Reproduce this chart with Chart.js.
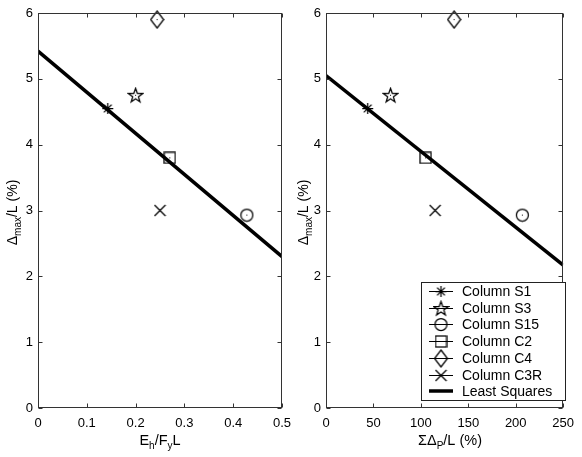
<!DOCTYPE html>
<html><head><meta charset="utf-8">
<script src="https://cdn.jsdelivr.net/npm/chart.js@4/dist/chart.umd.min.js"></script>
<style>
html,body{margin:0;padding:0;background:#fff;width:582px;height:457px;overflow:hidden;}
#w1{position:absolute;left:0;top:0;width:320px;height:457px;}
#w2{position:absolute;left:291px;top:0;width:291px;height:457px;}
</style></head><body>
<div id="w1"><canvas id="c1" width="320" height="457"></canvas></div>
<div id="w2"><canvas id="c2" width="291" height="457"></canvas></div>
<script>
// ---- data ----
const seriesNames = ['Column S1','Column S3','Column S15','Column C2','Column C4','Column C3R'];
const energyX  = [0.143, 0.200, 0.428, 0.270, 0.244, 0.250];   // Eh/FyL
const plasticX = [44, 68, 207, 105, 135, 115];                  // ΣΔp/L (%)
const driftY   = [4.55, 4.75, 2.93, 3.80, 5.90, 3.00];          // Δmax/L (%)
const fitName = 'Least Squares';
const fitEnergyX = [0, 0.5];   const fitEnergyY = [5.42, 2.30];
const fitPlasticX = [0, 250];  const fitPlasticY = [5.05, 2.17];
const yTickValues = [0, 1, 2, 3, 4, 5, 6];
const energyTicks = [0, 0.1, 0.2, 0.3, 0.4, 0.5];
const plasticTicks = [0, 50, 100, 150, 200, 250];

const F = '"Liberation Sans", Arial, Helvetica, sans-serif';
Chart.defaults.font.family = F;
Chart.defaults.color = '#000';

// ---- marker images (MATLAB style, hollow black) ----
function mk(w, h, draw) {
  const c = document.createElement('canvas'); c.width = w; c.height = h;
  const g = c.getContext('2d'); g.strokeStyle = '#000'; g.fillStyle = '#000'; g.lineWidth = 1.25;
  draw(g, w / 2, h / 2); return c;
}
function dot(g, cx, cy) { g.fillRect(Math.floor(cx), Math.floor(cy), 1, 1); }
const markers = [
  mk(13, 13, (g, cx, cy) => { const r = 5.5; g.beginPath();
    for (let k = 0; k < 4; k++) { const a = k * Math.PI / 4;
      g.moveTo(cx - r * Math.cos(a), cy - r * Math.sin(a)); g.lineTo(cx + r * Math.cos(a), cy + r * Math.sin(a)); }
    g.stroke(); }),
  mk(17, 17, (g, cx, cy) => { const R = 7.5, r = 3.0; g.beginPath();
    for (let k = 0; k < 10; k++) { const a = -Math.PI / 2 + k * Math.PI / 5; const rr = k % 2 ? r : R;
      const px = cx + rr * Math.cos(a), py = cy + 0.5 + rr * Math.sin(a); k ? g.lineTo(px, py) : g.moveTo(px, py); }
    g.closePath(); g.stroke(); dot(g, cx, cy); }),
  mk(15, 15, (g, cx, cy) => { g.beginPath(); g.arc(cx, cy, 6, 0, Math.PI * 2); g.stroke(); dot(g, cx, cy); }),
  mk(13, 13, (g, cx, cy) => { g.strokeRect(cx - 5.5, cy - 5.5, 11, 11); dot(g, cx, cy); }),
  mk(15, 19, (g, cx, cy) => { g.beginPath(); g.moveTo(cx, cy - 8.5); g.lineTo(cx + 6.5, cy); g.lineTo(cx, cy + 8.5); g.lineTo(cx - 6.5, cy); g.closePath(); g.stroke(); dot(g, cx, cy); }),
  mk(13, 13, (g, cx, cy) => { const r = 5.5; g.beginPath(); g.moveTo(cx - r, cy - r); g.lineTo(cx + r, cy + r); g.moveTo(cx + r, cy - r); g.lineTo(cx - r, cy + r); g.stroke(); })
];

function buildDatasets(xs, fx, fy) {
  const ds = seriesNames.map((n, i) => ({
    label: n, data: [{ x: xs[i], y: driftY[i] }], pointStyle: markers[i],
    pointRadius: 7, borderColor: '#000', backgroundColor: 'transparent', showLine: false, clip: false, order: 1
  }));
  ds.push({ label: fitName, data: fx.map((x, i) => ({ x, y: fy[i] })), showLine: true,
    borderColor: '#000', borderWidth: 3.5, pointRadius: 0, order: -1, isFit: true });
  return ds;
}

function richText(ctx, parts, x, y, size) {
  const main = size + 'px ' + F, sub = Math.round(size * 0.72) + 'px ' + F;
  let w = 0;
  parts.forEach(p => { ctx.font = p[1] ? sub : main; w += ctx.measureText(p[0]).width; });
  let cx = x - w / 2; ctx.textAlign = 'left'; ctx.textBaseline = 'alphabetic'; ctx.fillStyle = '#000';
  parts.forEach(p => { ctx.font = p[1] ? sub : main; ctx.fillText(p[0], cx, y + (p[1] ? 4 : 0)); cx += ctx.measureText(p[0]).width; });
}

const framePlugin = {
  id: 'frame',
  afterDraw(chart, args, o) {
    const { ctx, chartArea: a, scales: { x, y } } = chart;
    ctx.save();
    ctx.strokeStyle = '#333'; ctx.lineWidth = 1; ctx.beginPath();
    const L = Math.round(a.left) + .5, R = Math.round(a.right) - .5, T = Math.round(a.top) + .5, B = Math.round(a.bottom) - .5;
    o.xt.forEach(v => { const px = Math.round(x.getPixelForValue(v)) + .5;
      ctx.moveTo(px, B); ctx.lineTo(px, B - 4); ctx.moveTo(px, T); ctx.lineTo(px, T + 4); });
    yTickValues.forEach(v => { const py = Math.round(y.getPixelForValue(v)) + .5;
      ctx.moveTo(L, py); ctx.lineTo(L + 4, py); ctx.moveTo(R, py); ctx.lineTo(R - 4, py); });
    ctx.stroke();
    ctx.strokeRect(L, T, R - L, B - T);
    // axis titles
    richText(ctx, o.xTitle, o.xTitleX, 445, 14.5);
    ctx.translate(17, (a.top + a.bottom) / 2 + 2); ctx.rotate(-Math.PI / 2);
    richText(ctx, [['\u0394', 0], ['max', 1], ['/L (%)', 0]], 0, 0, 14);
    ctx.restore();
  }
};

const legendPlugin = {
  id: 'legendBox',
  afterDraw(chart, args, o) {
    if (!o.show) return;
    const ctx = chart.ctx; const L = 130, T = 282, R = 274, B = 400;
    ctx.save();
    ctx.fillStyle = '#fff'; ctx.fillRect(L, T, R - L, B - T);
    ctx.strokeStyle = '#222'; ctx.lineWidth = 1; ctx.strokeRect(L + .5, T + .5, R - L, B - T);
    chart.data.datasets.forEach((ds, i) => {
      const yy = Math.round(T + 9 + i * 16.7);
      ctx.strokeStyle = '#000';
      ctx.beginPath();
      if (ds.isFit) { ctx.lineWidth = 3.5; ctx.moveTo(138, yy); ctx.lineTo(162, yy); ctx.stroke(); }
      else {
        ctx.lineWidth = 1; ctx.moveTo(138, yy + .5); ctx.lineTo(162, yy + .5); ctx.stroke();
        const m = ds.pointStyle; ctx.drawImage(m, 150 - m.width / 2, yy + .5 - m.height / 2);
      }
      ctx.fillStyle = '#000'; ctx.font = '14px ' + F; ctx.textAlign = 'left'; ctx.textBaseline = 'middle';
      ctx.fillText(ds.label, 171, yy + 1);
    });
    ctx.restore();
  }
};

function makeChart(id, xs, fx, fy, xt, opts) {
  return new Chart(document.getElementById(id), {
    type: 'scatter',
    data: { datasets: buildDatasets(xs, fx, fy) },
    plugins: [framePlugin, legendPlugin],
    options: {
      responsive: false, animation: false, devicePixelRatio: 1,
      layout: { padding: { top: 13, right: opts.padR, left: 0, bottom: 0 } },
      plugins: { legend: { display: false }, tooltip: { enabled: false },
        frame: { xt, xTitle: opts.xTitle, xTitleX: opts.xTitleX },
        legendBox: { show: opts.legend } },
      scales: {
        x: { type: 'linear', min: xt[0], max: xt[xt.length - 1],
          afterBuildTicks(s) { s.ticks = xt.map(v => ({ value: v })); },
          ticks: { padding: 8, font: { size: 13 }, color: '#000', maxRotation: 0, autoSkip: false,
            callback: v => String(Math.round(v * 10) / 10) },
          grid: { display: false, drawTicks: false }, border: { display: false },
          afterFit(s) { s.height = 49; } },
        y: { type: 'linear', min: 0, max: 6,
          afterBuildTicks(s) { s.ticks = yTickValues.map(v => ({ value: v })); },
          ticks: { padding: 5, font: { size: 13 }, color: '#000' },
          grid: { display: false, drawTicks: false }, border: { display: false },
          afterFit(s) { s.width = opts.yw; } }
      }
    }
  });
}

makeChart('c1', energyX, fitEnergyX, fitEnergyY, energyTicks,
  { padR: 320 - 282, yw: 38, legend: false, xTitleX: 160,
    xTitle: [['E', 0], ['h', 1], ['/F', 0], ['y', 1], ['L', 0]] });
makeChart('c2', plasticX, fitPlasticX, fitPlasticY, plasticTicks,
  { padR: 291 - 280, yw: 35, legend: true, xTitleX: 159,
    xTitle: [['\u03A3\u0394', 0], ['P', 1], ['/L (%)', 0]] });
</script>
</body></html>
